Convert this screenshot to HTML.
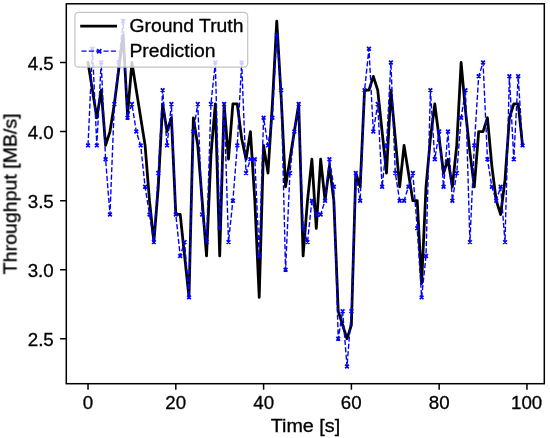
<!DOCTYPE html><html><head><meta charset="utf-8"><style>html,body{margin:0;padding:0;background:#fff;}svg{display:block;}</style></head><body>
<svg width="550" height="438" viewBox="0 0 550 438">
<rect width="550" height="438" fill="#fff"/>
<defs><clipPath id="c"><rect x="66.30" y="3.80" width="478.00" height="379.90"/></clipPath></defs>
<g clip-path="url(#c)">
<polyline points="88.03,62.51 92.42,90.14 96.81,117.77 101.20,90.14 105.58,145.40 109.97,131.58 114.36,103.96 118.75,69.42 123.14,34.88 127.53,115.01 131.92,62.51 136.31,90.14 140.70,117.77 145.09,145.40 149.48,200.66 153.87,242.10 158.26,186.84 162.65,103.96 167.04,131.58 171.42,117.77 175.81,214.47 180.20,214.47 184.59,255.92 188.98,297.36 193.37,117.77 197.76,145.40 202.15,200.66 206.54,255.92 210.93,155.07 215.32,103.96 219.71,255.92 224.10,103.96 228.49,159.21 232.88,103.96 237.27,103.96 241.65,138.49 246.04,159.21 250.43,131.58 254.82,200.66 259.21,297.36 263.60,145.40 267.99,173.03 272.38,103.96 276.77,21.07 281.16,97.05 285.55,186.84 289.94,159.21 294.33,131.58 298.72,103.96 303.11,255.92 307.49,200.66 311.88,159.21 316.27,228.29 320.66,159.21 325.05,200.66 329.44,166.12 333.83,200.66 338.22,311.17 342.61,324.99 347.00,338.80 351.39,324.99 355.78,173.03 360.17,186.84 364.56,90.14 368.95,90.14 373.33,76.33 377.72,90.14 382.11,131.58 386.50,173.03 390.89,90.14 395.28,138.49 399.67,186.84 404.06,145.40 408.45,173.03 412.84,200.66 417.23,200.66 421.62,283.54 426.01,186.84 430.40,138.49 434.79,103.96 439.18,138.49 443.56,173.03 447.95,159.21 452.34,186.84 456.73,145.40 461.12,62.51 465.51,110.86 469.90,152.31 474.29,186.84 478.68,131.58 483.07,131.58 487.46,117.77 491.85,166.12 496.24,200.66 500.63,214.47 505.02,179.94 509.40,117.77 513.79,103.96 518.18,103.96 522.57,145.40" fill="none" stroke="#000" stroke-width="2.78" stroke-linejoin="round" stroke-linecap="square"/>
<polyline points="88.03,145.40 92.42,48.70 96.81,145.40 101.20,62.51 105.58,159.21 109.97,214.47 114.36,103.96 118.75,62.51 123.14,21.07 127.53,117.77 131.92,103.96 136.31,131.58 140.70,145.40 145.09,186.84 149.48,214.47 153.87,242.10 158.26,173.03 162.65,90.14 167.04,145.40 171.42,103.96 175.81,214.47 180.20,255.92 184.59,242.10 188.98,297.36 193.37,131.58 197.76,103.96 202.15,214.47 206.54,242.10 210.93,103.96 215.32,62.51 219.71,228.29 224.10,103.96 228.49,242.10 232.88,200.66 237.27,145.40 241.65,62.51 246.04,173.03 250.43,159.21 254.82,159.21 259.21,255.92 263.60,117.77 267.99,145.40 272.38,117.77 276.77,34.88 281.16,90.14 285.55,269.73 289.94,173.03 294.33,131.58 298.72,103.96 303.11,228.29 307.49,242.10 311.88,200.66 316.27,214.47 320.66,214.47 325.05,200.66 329.44,159.21 333.83,186.84 338.22,338.80 342.61,311.17 347.00,366.43 351.39,311.17 355.78,173.03 360.17,200.66 364.56,90.14 368.95,48.70 373.33,131.58 377.72,103.96 382.11,186.84 386.50,145.40 390.89,62.51 395.28,173.03 399.67,200.66 404.06,200.66 408.45,186.84 412.84,173.03 417.23,228.29 421.62,297.36 426.01,255.92 430.40,90.14 434.79,159.21 439.18,131.58 443.56,186.84 447.95,131.58 452.34,200.66 456.73,173.03 461.12,117.77 465.51,90.14 469.90,242.10 474.29,145.40 478.68,76.33 483.07,62.51 487.46,159.21 491.85,186.84 496.24,200.66 500.63,186.84 505.02,242.10 509.40,76.33 513.79,159.21 518.18,76.33 522.57,145.40" fill="none" stroke="#0000ff" stroke-width="1.39" stroke-dasharray="5.14 2.22" stroke-linejoin="round"/>
<path fill="none" stroke="#0000ff" stroke-width="1.75" d="M86.18,143.55L89.88,147.25M86.18,147.25L89.88,143.55M90.57,46.85L94.27,50.55M90.57,50.55L94.27,46.85M94.96,143.55L98.66,147.25M94.96,147.25L98.66,143.55M99.35,60.66L103.05,64.36M99.35,64.36L103.05,60.66M103.73,157.36L107.43,161.06M103.73,161.06L107.43,157.36M108.12,212.62L111.82,216.32M108.12,216.32L111.82,212.62M112.51,102.11L116.21,105.81M112.51,105.81L116.21,102.11M116.90,60.66L120.60,64.36M116.90,64.36L120.60,60.66M121.29,19.22L124.99,22.92M121.29,22.92L124.99,19.22M125.68,115.92L129.38,119.62M125.68,119.62L129.38,115.92M130.07,102.11L133.77,105.81M130.07,105.81L133.77,102.11M134.46,129.73L138.16,133.43M134.46,133.43L138.16,129.73M138.85,143.55L142.55,147.25M138.85,147.25L142.55,143.55M143.24,184.99L146.94,188.69M143.24,188.69L146.94,184.99M147.63,212.62L151.33,216.32M147.63,216.32L151.33,212.62M152.02,240.25L155.72,243.95M152.02,243.95L155.72,240.25M156.41,171.18L160.11,174.88M156.41,174.88L160.11,171.18M160.80,88.29L164.50,91.99M160.80,91.99L164.50,88.29M165.19,143.55L168.89,147.25M165.19,147.25L168.89,143.55M169.57,102.11L173.27,105.81M169.57,105.81L173.27,102.11M173.96,212.62L177.66,216.32M173.96,216.32L177.66,212.62M178.35,254.07L182.05,257.77M178.35,257.77L182.05,254.07M182.74,240.25L186.44,243.95M182.74,243.95L186.44,240.25M187.13,295.51L190.83,299.21M187.13,299.21L190.83,295.51M191.52,129.73L195.22,133.43M191.52,133.43L195.22,129.73M195.91,102.11L199.61,105.81M195.91,105.81L199.61,102.11M200.30,212.62L204.00,216.32M200.30,216.32L204.00,212.62M204.69,240.25L208.39,243.95M204.69,243.95L208.39,240.25M209.08,102.11L212.78,105.81M209.08,105.81L212.78,102.11M213.47,60.66L217.17,64.36M213.47,64.36L217.17,60.66M217.86,226.44L221.56,230.14M217.86,230.14L221.56,226.44M222.25,102.11L225.95,105.81M222.25,105.81L225.95,102.11M226.64,240.25L230.34,243.95M226.64,243.95L230.34,240.25M231.03,198.81L234.73,202.51M231.03,202.51L234.73,198.81M235.42,143.55L239.12,147.25M235.42,147.25L239.12,143.55M239.80,60.66L243.50,64.36M239.80,64.36L243.50,60.66M244.19,171.18L247.89,174.88M244.19,174.88L247.89,171.18M248.58,157.36L252.28,161.06M248.58,161.06L252.28,157.36M252.97,157.36L256.67,161.06M252.97,161.06L256.67,157.36M257.36,254.07L261.06,257.77M257.36,257.77L261.06,254.07M261.75,115.92L265.45,119.62M261.75,119.62L265.45,115.92M266.14,143.55L269.84,147.25M266.14,147.25L269.84,143.55M270.53,115.92L274.23,119.62M270.53,119.62L274.23,115.92M274.92,33.03L278.62,36.73M274.92,36.73L278.62,33.03M279.31,88.29L283.01,91.99M279.31,91.99L283.01,88.29M283.70,267.88L287.40,271.58M283.70,271.58L287.40,267.88M288.09,171.18L291.79,174.88M288.09,174.88L291.79,171.18M292.48,129.73L296.18,133.43M292.48,133.43L296.18,129.73M296.87,102.11L300.57,105.81M296.87,105.81L300.57,102.11M301.26,226.44L304.96,230.14M301.26,230.14L304.96,226.44M305.64,240.25L309.34,243.95M305.64,243.95L309.34,240.25M310.03,198.81L313.73,202.51M310.03,202.51L313.73,198.81M314.42,212.62L318.12,216.32M314.42,216.32L318.12,212.62M318.81,212.62L322.51,216.32M318.81,216.32L322.51,212.62M323.20,198.81L326.90,202.51M323.20,202.51L326.90,198.81M327.59,157.36L331.29,161.06M327.59,161.06L331.29,157.36M331.98,184.99L335.68,188.69M331.98,188.69L335.68,184.99M336.37,336.95L340.07,340.65M336.37,340.65L340.07,336.95M340.76,309.32L344.46,313.02M340.76,313.02L344.46,309.32M345.15,364.58L348.85,368.28M345.15,368.28L348.85,364.58M349.54,309.32L353.24,313.02M349.54,313.02L353.24,309.32M353.93,171.18L357.63,174.88M353.93,174.88L357.63,171.18M358.32,198.81L362.02,202.51M358.32,202.51L362.02,198.81M362.71,88.29L366.41,91.99M362.71,91.99L366.41,88.29M367.10,46.85L370.80,50.55M367.10,50.55L370.80,46.85M371.48,129.73L375.18,133.43M371.48,133.43L375.18,129.73M375.87,102.11L379.57,105.81M375.87,105.81L379.57,102.11M380.26,184.99L383.96,188.69M380.26,188.69L383.96,184.99M384.65,143.55L388.35,147.25M384.65,147.25L388.35,143.55M389.04,60.66L392.74,64.36M389.04,64.36L392.74,60.66M393.43,171.18L397.13,174.88M393.43,174.88L397.13,171.18M397.82,198.81L401.52,202.51M397.82,202.51L401.52,198.81M402.21,198.81L405.91,202.51M402.21,202.51L405.91,198.81M406.60,184.99L410.30,188.69M406.60,188.69L410.30,184.99M410.99,171.18L414.69,174.88M410.99,174.88L414.69,171.18M415.38,226.44L419.08,230.14M415.38,230.14L419.08,226.44M419.77,295.51L423.47,299.21M419.77,299.21L423.47,295.51M424.16,254.07L427.86,257.77M424.16,257.77L427.86,254.07M428.55,88.29L432.25,91.99M428.55,91.99L432.25,88.29M432.94,157.36L436.64,161.06M432.94,161.06L436.64,157.36M437.33,129.73L441.03,133.43M437.33,133.43L441.03,129.73M441.71,184.99L445.41,188.69M441.71,188.69L445.41,184.99M446.10,129.73L449.80,133.43M446.10,133.43L449.80,129.73M450.49,198.81L454.19,202.51M450.49,202.51L454.19,198.81M454.88,171.18L458.58,174.88M454.88,174.88L458.58,171.18M459.27,115.92L462.97,119.62M459.27,119.62L462.97,115.92M463.66,88.29L467.36,91.99M463.66,91.99L467.36,88.29M468.05,240.25L471.75,243.95M468.05,243.95L471.75,240.25M472.44,143.55L476.14,147.25M472.44,147.25L476.14,143.55M476.83,74.48L480.53,78.18M476.83,78.18L480.53,74.48M481.22,60.66L484.92,64.36M481.22,64.36L484.92,60.66M485.61,157.36L489.31,161.06M485.61,161.06L489.31,157.36M490.00,184.99L493.70,188.69M490.00,188.69L493.70,184.99M494.39,198.81L498.09,202.51M494.39,202.51L498.09,198.81M498.78,184.99L502.48,188.69M498.78,188.69L502.48,184.99M503.17,240.25L506.87,243.95M503.17,243.95L506.87,240.25M507.55,74.48L511.25,78.18M507.55,78.18L511.25,74.48M511.94,157.36L515.64,161.06M511.94,161.06L515.64,157.36M516.33,74.48L520.03,78.18M516.33,78.18L520.03,74.48M520.72,143.55L524.42,147.25M520.72,147.25L524.42,143.55"/>
</g>
<rect x="66.30" y="3.80" width="478.00" height="379.90" fill="none" stroke="#000" stroke-width="1.5"/>
<path d="M88.03,383.70V389.80M175.81,383.70V389.80M263.60,383.70V389.80M351.39,383.70V389.80M439.18,383.70V389.80M526.96,383.70V389.80M66.30,338.80H60.10M66.30,269.73H60.10M66.30,200.66H60.10M66.30,131.58H60.10M66.30,62.51H60.10" stroke="#000" stroke-width="1.5" fill="none"/>
<text transform="translate(82.82,408.70) scale(1.0700,1)" font-size="17.5" font-family="&quot;Liberation Sans&quot;, sans-serif" stroke="#000" stroke-width="0.3" style="will-change:transform">0</text>
<text transform="translate(165.30,408.70) scale(1.0700,1)" font-size="17.5" font-family="&quot;Liberation Sans&quot;, sans-serif" stroke="#000" stroke-width="0.3" style="will-change:transform">20</text>
<text transform="translate(253.34,408.70) scale(1.0700,1)" font-size="17.5" font-family="&quot;Liberation Sans&quot;, sans-serif" stroke="#000" stroke-width="0.3" style="will-change:transform">40</text>
<text transform="translate(340.86,408.70) scale(1.0700,1)" font-size="17.5" font-family="&quot;Liberation Sans&quot;, sans-serif" stroke="#000" stroke-width="0.3" style="will-change:transform">60</text>
<text transform="translate(428.72,408.70) scale(1.0700,1)" font-size="17.5" font-family="&quot;Liberation Sans&quot;, sans-serif" stroke="#000" stroke-width="0.3" style="will-change:transform">80</text>
<text transform="translate(510.99,408.70) scale(1.0700,1)" font-size="17.5" font-family="&quot;Liberation Sans&quot;, sans-serif" stroke="#000" stroke-width="0.3" style="will-change:transform">100</text>
<text transform="translate(27.76,346.00) scale(1.0700,1)" font-size="17.5" font-family="&quot;Liberation Sans&quot;, sans-serif" stroke="#000" stroke-width="0.3" style="will-change:transform">2.5</text>
<text transform="translate(27.70,276.93) scale(1.0700,1)" font-size="17.5" font-family="&quot;Liberation Sans&quot;, sans-serif" stroke="#000" stroke-width="0.3" style="will-change:transform">3.0</text>
<text transform="translate(27.76,207.86) scale(1.0700,1)" font-size="17.5" font-family="&quot;Liberation Sans&quot;, sans-serif" stroke="#000" stroke-width="0.3" style="will-change:transform">3.5</text>
<text transform="translate(27.70,138.78) scale(1.0700,1)" font-size="17.5" font-family="&quot;Liberation Sans&quot;, sans-serif" stroke="#000" stroke-width="0.3" style="will-change:transform">4.0</text>
<text transform="translate(27.76,69.71) scale(1.0700,1)" font-size="17.5" font-family="&quot;Liberation Sans&quot;, sans-serif" stroke="#000" stroke-width="0.3" style="will-change:transform">4.5</text>
<text transform="translate(270.66,432.20) scale(1.1290,1)" font-size="17.5" font-family="&quot;Liberation Sans&quot;, sans-serif" stroke="#000" stroke-width="0.3" style="will-change:transform">Time [s]</text>
<text transform="translate(16.50,274.24) rotate(-90) scale(1.1179,1)" font-size="17.5" font-family="&quot;Liberation Sans&quot;, sans-serif" stroke="#000" stroke-width="0.3" style="will-change:transform">Throughput [MB/s]</text>
<rect x="74.9" y="12.3" width="172.8" height="54.8" rx="3.6" ry="3.6" fill="#fff" fill-opacity="0.8" stroke="#c4c4c4" stroke-width="1.2"/>
<line x1="81.6" y1="26.1" x2="115.6" y2="26.1" stroke="#000" stroke-width="2.78" stroke-linecap="square"/>
<line x1="81.4" y1="51.1" x2="116.5" y2="51.1" stroke="#0000ff" stroke-width="1.39" stroke-dasharray="5.14 2.22"/>
<path fill="none" stroke="#0000ff" stroke-width="1.75" d="M97.10,49.20L101.30,53.40M97.10,53.40L101.30,49.20"/>
<text transform="translate(129.53,31.65) scale(1.1052,1)" font-size="17.5" font-family="&quot;Liberation Sans&quot;, sans-serif" stroke="#000" stroke-width="0.3" style="will-change:transform">Ground Truth</text>
<text transform="translate(129.41,56.85) scale(1.1070,1)" font-size="17.5" font-family="&quot;Liberation Sans&quot;, sans-serif" stroke="#000" stroke-width="0.3" style="will-change:transform">Prediction</text>
</svg></body></html>
